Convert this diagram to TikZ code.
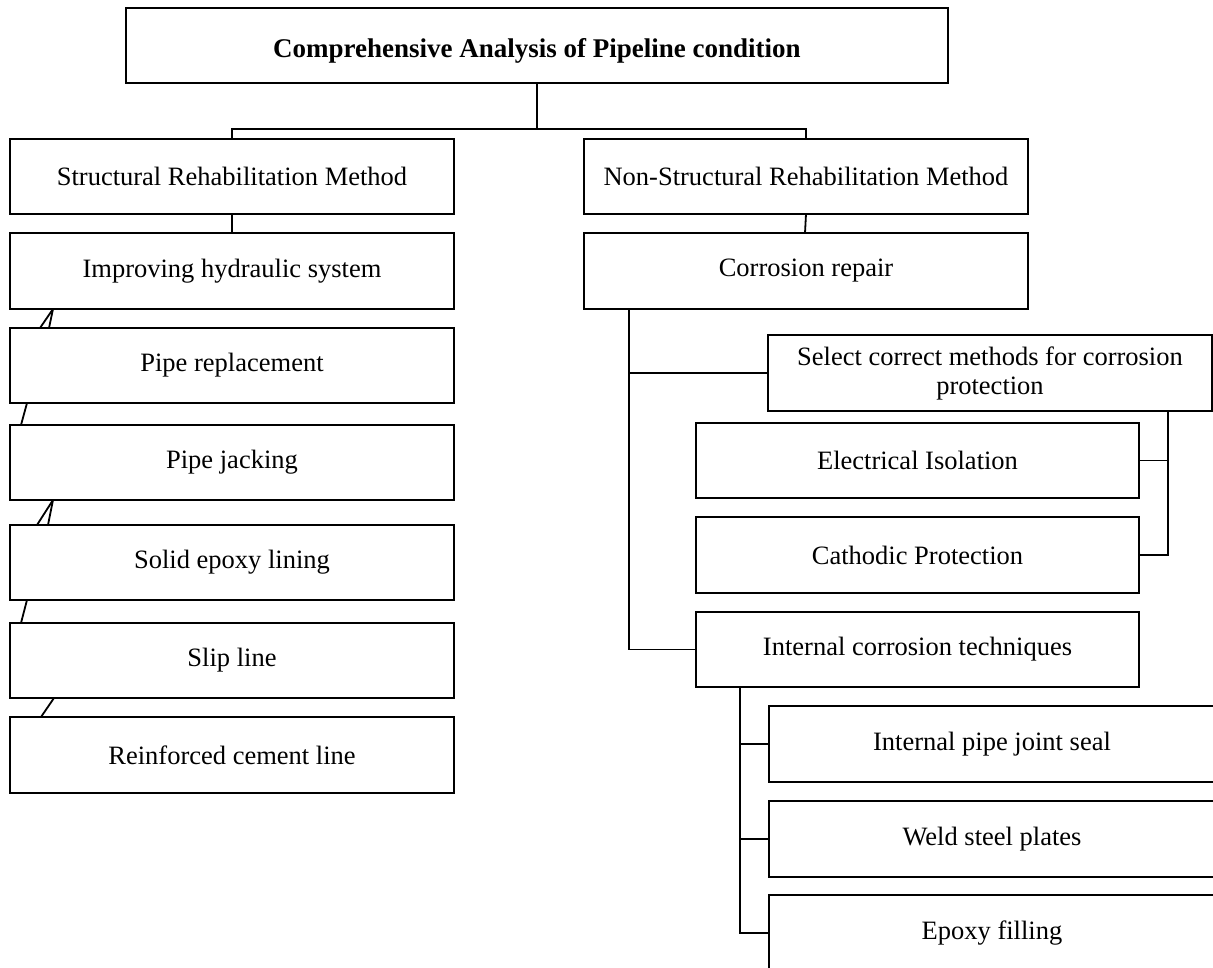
\documentclass[tikz,border=0pt]{standalone}
\usepackage{fontspec}
\setmainfont{Liberation Serif}
\begin{document}
\begin{tikzpicture}[x=1pt, y=-1pt,
  box/.style={draw, line width=1.8pt, inner sep=0pt, outer sep=0pt,
    anchor=north west, align=center,
    font=\fontsize{26.5}{29}\selectfont},
  wide/.style={box, minimum width=444pt},
  link/.style={line width=1.8pt}]
\useasboundingbox (0,0) rectangle (1213,967);
\fill[white] (0,0) rectangle (1213,967);
\clip (0,0) rectangle (1213,967);

% root
\node[box, minimum width=822pt, minimum height=75pt] (root) at (126,8) {};
\node[font=\fontsize{27}{30}\selectfont\bfseries, inner sep=0pt]
  at ([yshift=-5pt]root.center) {Comprehensive Analysis of Pipeline condition};

% two main branches
\node[wide, minimum height=75pt] (str) at (10,139) {Structural Rehabilitation Method};
\node[wide, minimum height=75pt] (nst) at (584,139) {Non-Structural Rehabilitation Method};

% structural column
\node[wide, minimum height=76pt] (imp) at (10,233) {Improving hydraulic system};
\node[wide, minimum height=75pt] (rep) at (10,328) {Pipe replacement};
\node[wide, minimum height=75pt] (jck) at (10,425) {Pipe jacking};
\node[wide, minimum height=75pt] (sel) at (10,525) {Solid epoxy lining};
\node[wide, minimum height=75pt] (slp) at (10,623) {Slip line};
\node[wide, minimum height=76pt] (rcl) at (10,717) {Reinforced cement line};

% non-structural column
\node[wide, minimum height=76pt] (cor) at (584,233) {Corrosion repair};
\node[wide, minimum height=76pt] (scm) at (768,335)
  {Select correct methods for corrosion\\protection};
\node[box, minimum width=443pt, minimum height=75pt] (eli) at (696,423) {Electrical Isolation};
\node[box, minimum width=443pt, minimum height=76pt] (cat) at (696,517) {Cathodic Protection};
\node[box, minimum width=443pt, minimum height=75pt] (ict) at (696,612) {Internal corrosion techniques};
\node[box, minimum width=446pt, minimum height=76pt] (ipj) at (769,706) {Internal pipe joint seal};
\node[box, minimum width=446pt, minimum height=76pt] (wsp) at (769,801) {Weld steel plates};
\node[box, minimum width=446pt, minimum height=76pt] (epf) at (769,895) {Epoxy filling};

% root to the two branches
\coordinate (hub) at ([yshift=-46pt]root.south);
\draw[link] (root.south) -- (hub);
\draw[link] (str.north) |- (hub) -| (nst.north);

% structural chain
\draw[link] (str.south) -- (imp.north);
\draw[link] ([xshift=43pt]imp.south west) -- ([xshift=30pt]rep.north west);
\draw[link] ([xshift=43pt]imp.south west) -- ([xshift=39pt]rep.north west);
\draw[link] ([xshift=17pt]rep.south west) -- ([xshift=11pt]jck.north west);
\draw[link] ([xshift=43pt]jck.south west) -- ([xshift=27pt]sel.north west);
\draw[link] ([xshift=43pt]jck.south west) -- ([xshift=38pt]sel.north west);
\draw[link] ([xshift=17pt]sel.south west) -- ([xshift=11pt]slp.north west);
\draw[link] ([xshift=44pt]slp.south west) -- ([xshift=31pt]rcl.north west);

% non-structural tree
\draw[link] (nst.south) -- ([xshift=-1pt]cor.north);
\draw[link] ([xshift=45pt]cor.south west) |- (scm.west);
\draw[link] ([xshift=45pt]cor.south west) |- (ict.west);
\draw[link] ([xshift=-44pt]scm.south east) |- (eli.east);
\draw[link] ([xshift=-44pt]scm.south east) |- (cat.east);
\draw[link] ([xshift=44pt]ict.south west) |- (ipj.west);
\draw[link] ([xshift=44pt]ict.south west) |- (wsp.west);
\draw[link] ([xshift=44pt]ict.south west) |- (epf.west);
\end{tikzpicture}
\end{document}
